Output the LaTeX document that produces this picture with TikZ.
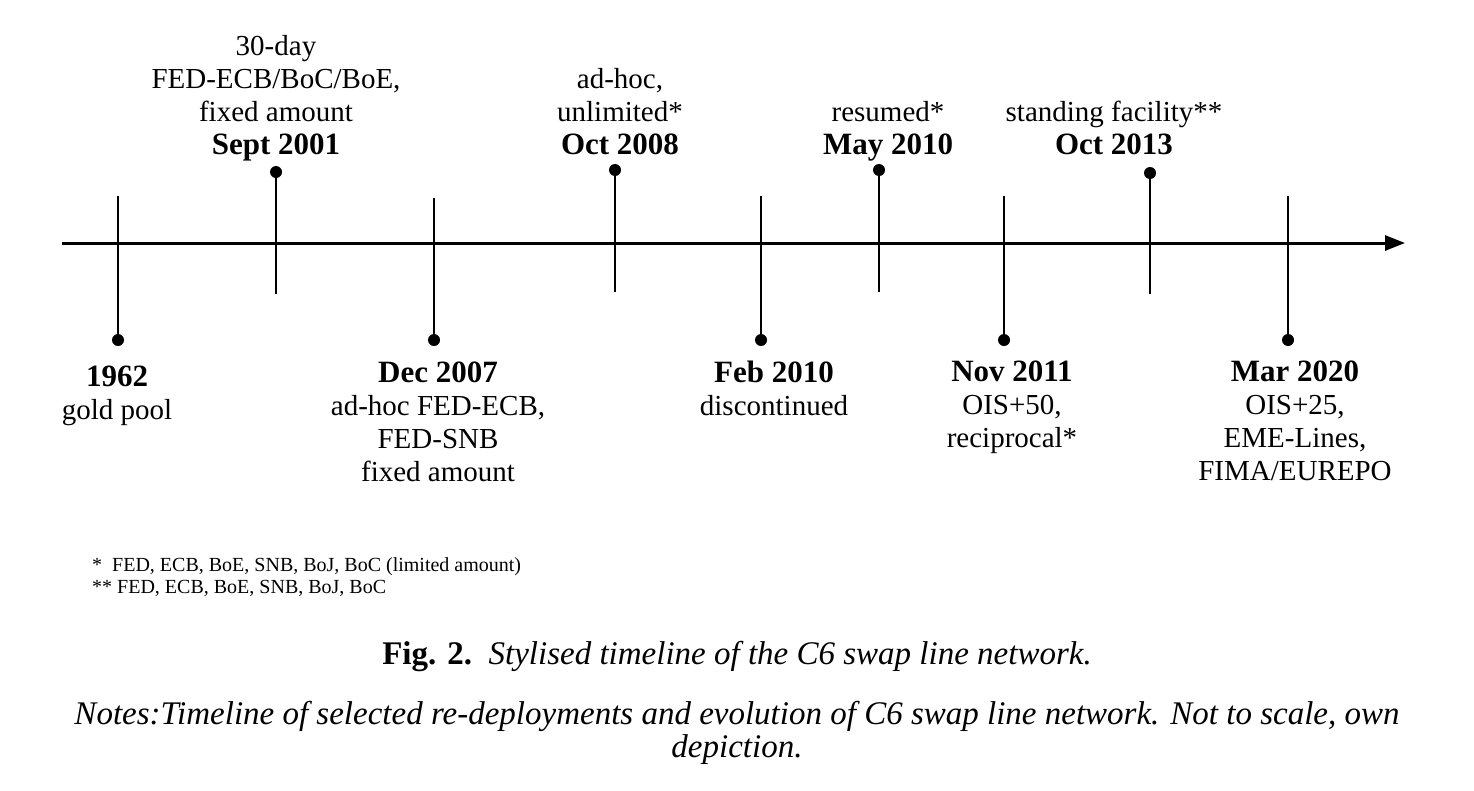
\documentclass[tikz,border=0pt]{standalone}
\usepackage{fontspec}
\setmainfont{Liberation Serif}
\usetikzlibrary{arrows.meta}
\newcommand\dt[1]{{\fontsize{31}{33}\selectfont\bfseries #1}}
\tikzset{
  axisline/.style={line width=3pt, -{Triangle[length=20pt,width=15pt]}},
  stem/.style={line width=2.6pt},
  dot/.style={circle, fill=black, inner sep=0pt, minimum size=12pt},
  lab/.style={align=center, inner sep=0pt, font=\fontsize{29}{33}\selectfont},
  foot/.style={align=left, inner sep=0pt, font=\fontsize{20}{22}\selectfont},
  captext/.style={align=center, inner sep=0pt, font=\fontsize{33}{33}\selectfont},
}
\begin{document}
\begin{tikzpicture}[x=1pt,y=-1pt]
\useasboundingbox (0,0) rectangle (1474,790);
% axis
\coordinate (a0) at (62,243);
\coordinate (a1) at (1405,243);
\draw[axisline] (a0) -- (a1);
% lower events
\coordinate (t1962) at (118,196);
\node[dot] (d1962) at (118,340) {};
\draw[stem] (t1962) -- (d1962.center);
\coordinate (t2007) at (434,198);
\node[dot] (d2007) at (434,340) {};
\draw[stem] (t2007) -- (d2007.center);
\coordinate (tfeb) at (761,196);
\node[dot] (dfeb) at (761,340) {};
\draw[stem] (tfeb) -- (dfeb.center);
\coordinate (tnov) at (1004,196);
\node[dot] (dnov) at (1004,340) {};
\draw[stem] (tnov) -- (dnov.center);
\coordinate (tmar) at (1288,196);
\node[dot] (dmar) at (1288,340) {};
\draw[stem] (tmar) -- (dmar.center);
% upper events
\node[dot] (d2001) at (276,172) {};
\coordinate (b2001) at (276,294);
\draw[stem] (d2001.center) -- (b2001);
\node[dot] (d2008) at (615,170) {};
\coordinate (b2008) at (615,292);
\draw[stem] (d2008.center) -- (b2008);
\node[dot] (dmay) at (879,170) {};
\coordinate (bmay) at (879,292);
\draw[stem] (dmay.center) -- (bmay);
\node[dot] (d2013) at (1150,173) {};
\coordinate (b2013) at (1150,294);
\draw[stem] (d2013.center) -- (b2013);
% upper labels
\node[lab, anchor=south] (l2001) at (276,161) {30-day\\FED-ECB/BoC/BoE,\\fixed amount\\\dt{Sept 2001}};
\node[lab, anchor=south] (l2008) at (620,155) {ad-hoc,\\unlimited*\\\dt{Oct 2008}};
\node[lab, anchor=south] (lmay) at (888,161) {resumed*\\\dt{May 2010}};
\node[lab, anchor=south] (l2013) at (1114,155) {standing facility**\\\dt{Oct 2013}};
% lower labels
\node[lab, anchor=north] (l1962) at (117,366) {\dt{1962}\\gold pool};
\node[lab, anchor=north] (l2007) at (438,362) {\dt{Dec 2007}\\ad-hoc FED-ECB,\\FED-SNB\\fixed amount};
\node[lab, anchor=north] (lfeb) at (774,361) {\dt{Feb 2010}\\discontinued};
\node[lab, anchor=north] (lnov) at (1012,361) {\dt{Nov 2011}\\OIS+50,\\reciprocal*};
\node[lab, anchor=north] (lmar) at (1295,361) {\dt{Mar 2020}\\OIS+25,\\EME-Lines,\\FIMA/EUREPO};
% footnotes
\node[foot, anchor=north west] (fn) at (92,557) {*\ \ FED, ECB, BoE, SNB, BoJ, BoC (limited amount)\\** FED, ECB, BoE, SNB, BoJ, BoC};
% caption
\node[captext] (caption) at (737,657) {\textbf{Fig. 2.}\ \ \textit{Stylised timeline of the C6 swap line network.}};
\node[captext, anchor=north] (notes) at (737,701) {\textit{Notes:Timeline of selected re-deployments and evolution of C6 swap line network. Not to scale, own}\\\textit{depiction.}};
\end{tikzpicture}
\end{document}
